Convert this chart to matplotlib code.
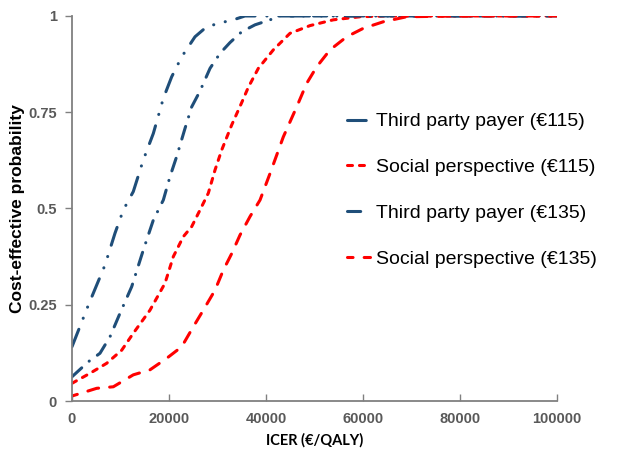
import matplotlib
matplotlib.use("Agg")
import matplotlib.pyplot as plt

plt.rcParams['font.family'] = ['Liberation Sans', 'DejaVu Sans']
plt.rcParams['lines.scale_dashes'] = False

# ICER thresholds (EUR/QALY) and probabilities
tpp115_x = [0, 3370, 6800, 8870, 10580, 12640, 14700, 16770, 18830, 20550, 22620, 25360, 27770, 30870, 33260, 35670, 40000, 50000, 60000, 70000, 80000, 90000, 100000]
tpp115_y = [0.141, 0.249, 0.353, 0.436, 0.496, 0.544, 0.626, 0.695, 0.786, 0.842, 0.894, 0.946, 0.972, 0.983, 0.990, 1.0, 1.0, 1.0, 1.0, 1.0, 1.0, 1.0, 1.0]

tpp135_x = [0, 3370, 5770, 7840, 9900, 12310, 14700, 16770, 18830, 20210, 21580, 23300, 24680, 26390, 28460, 30520, 32580, 34990, 37730, 40830, 43000, 50000, 60000, 70000, 80000, 90000, 100000]
tpp135_y = [0.063, 0.102, 0.124, 0.167, 0.228, 0.297, 0.392, 0.470, 0.522, 0.583, 0.635, 0.708, 0.764, 0.805, 0.864, 0.903, 0.931, 0.959, 0.977, 0.990, 1.0, 1.0, 1.0, 1.0, 1.0, 1.0, 1.0]

sp115_x = [0, 3710, 7150, 10250, 12640, 16080, 19180, 20890, 22960, 24680, 26390, 28110, 29490, 30870, 32930, 34990, 36360, 38420, 41510, 44950, 49080, 53880, 59390, 65000, 80000, 100000]
sp115_y = [0.046, 0.072, 0.098, 0.132, 0.176, 0.236, 0.306, 0.375, 0.427, 0.453, 0.496, 0.540, 0.600, 0.652, 0.717, 0.775, 0.815, 0.864, 0.912, 0.955, 0.975, 0.990, 0.998, 1.0, 1.0, 1.0]

sp135_x = [0, 5090, 8520, 12640, 16080, 19530, 22620, 25020, 27070, 29490, 31200, 32930, 34640, 36700, 38770, 40830, 43570, 46330, 48390, 50450, 53200, 56640, 60070, 64190, 69000, 80000, 100000]
sp135_y = [0.013, 0.033, 0.037, 0.068, 0.081, 0.111, 0.141, 0.193, 0.236, 0.288, 0.340, 0.383, 0.431, 0.479, 0.522, 0.591, 0.686, 0.764, 0.825, 0.868, 0.912, 0.946, 0.968, 0.985, 0.998, 1.0, 1.0]

labels = ["Third party payer (€115)", "Social perspective (€115)",
          "Third party payer (€135)", "Social perspective (€135)"]
xticks = [0, 20000, 40000, 60000, 80000, 100000]
yticks = [0, 0.25, 0.5, 0.75, 1]
ytick_labels = ["0", "0.25", "0.5", "0.75", "1"]

navy = "#1F4E79"
red = "#FF0000"

fig = plt.figure(figsize=(6.18, 4.54), dpi=100)
ax = fig.add_axes([0.1165, 0.1167, 0.7848, 0.8481])

lw = 2.2
common = dict(lw=lw, dash_capstyle='round', solid_joinstyle='round')
ax.plot(tpp115_x, tpp115_y, color=navy, linestyle=(0, (13.5, 8.5, 0.1, 8.5, 0.1, 8.5)),
        label=labels[0], **common)
ax.plot(sp115_x, sp115_y, color=red, linestyle=(0, (3.6, 5.0)),
        label=labels[1], **common)
ax.plot(tpp135_x, tpp135_y, color=navy, linestyle=(0, (9.5, 7.2, 0.1, 7.2)),
        label=labels[2], **common)
ax.plot(sp135_x, sp135_y, color=red, linestyle=(4, (8.0, 8.0)),
        label=labels[3], **common)

ax.set_xlim(0, 100000)
ax.set_ylim(0, 1)
ax.set_xticks(xticks)
ax.set_xticklabels([str(v) for v in xticks])
ax.set_yticks(yticks)
ax.set_yticklabels(ytick_labels)

for s in ['top', 'right']:
    ax.spines[s].set_visible(False)
for s in ['left', 'bottom']:
    ax.spines[s].set_color('#808080')
    ax.spines[s].set_linewidth(1.3)

ax.tick_params(axis='x', direction='in', length=5, color='#808080', width=1,
               labelsize=10.5, labelcolor='#595959', pad=8)
ax.tick_params(axis='y', direction='out', length=5, color='#808080', width=1,
               labelsize=10.5, labelcolor='#595959', pad=6)
for t in ax.get_xticklabels() + ax.get_yticklabels():
    t.set_fontweight('bold')

ax.set_xlabel("ICER (€/QALY)", fontsize=10.5, fontweight='bold',
              family=['Lato', 'DejaVu Sans'], labelpad=5)
ax.set_ylabel("Cost-effective probability", fontsize=12.5, fontweight='bold',
              labelpad=2)

leg = fig.legend(loc='upper left', bbox_to_anchor=(0.533, 0.79), frameon=False,
                 fontsize=14, handlelength=1.2, handletextpad=0.28,
                 labelspacing=1.45)

fig.savefig("out.png", dpi=100)
